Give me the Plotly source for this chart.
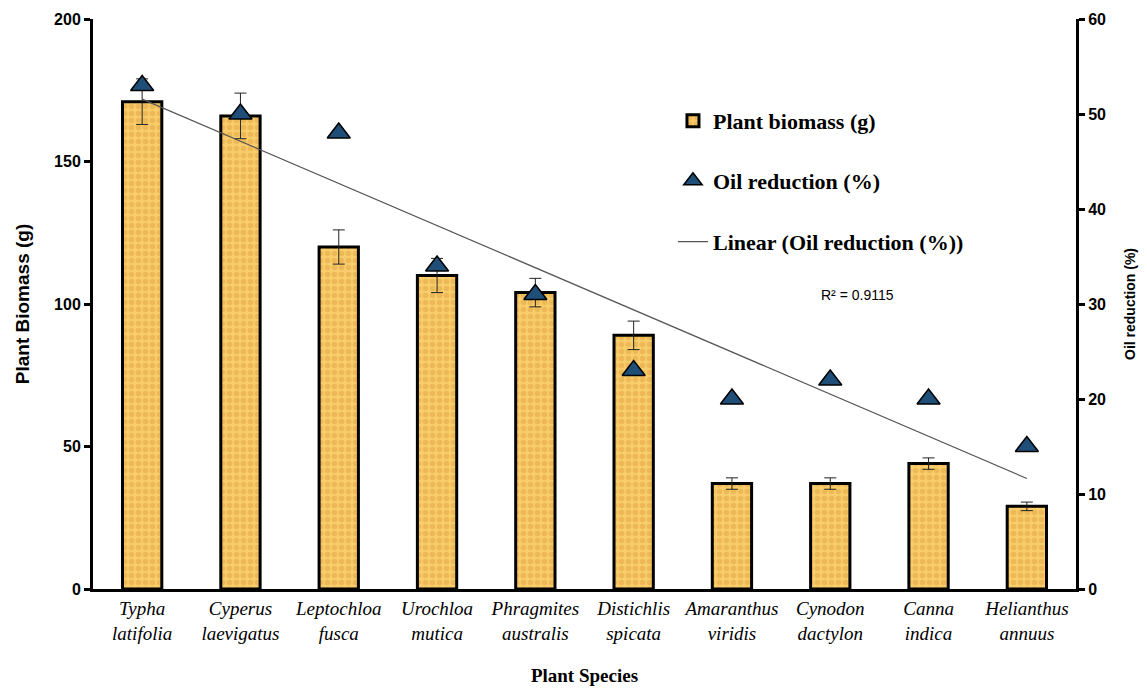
import numpy as np
import plotly.graph_objects as go

species = ["Typha<br>latifolia", "Cyperus<br>laevigatus", "Leptochloa<br>fusca", "Urochloa<br>mutica",
           "Phragmites<br>australis", "Distichlis<br>spicata", "Amaranthus<br>viridis", "Cynodon<br>dactylon",
           "Canna<br>indica", "Helianthus<br>annuus"]
biomass = [171, 166, 120, 110, 104, 89, 37, 37, 44, 29]
biomass_err = [8, 8, 6, 6, 5, 5, 2, 2, 2, 1.5]
oil_reduction = [53, 50, 48, 34, 31, 23, 20, 22, 20, 15]
r2_label = "R² = 0.9115"

cats = [f"<i>{s}</i>" for s in species]

# linear trendline of oil reduction vs. category index
idx = np.arange(1, len(oil_reduction) + 1)
slope, intercept = np.polyfit(idx, oil_reduction, 1)
trend = slope * idx + intercept

serif = "Liberation Serif, Times New Roman, serif"
sans = "Liberation Sans, Arial, sans-serif"

fig = go.Figure()
fig.add_trace(go.Bar(
    x=cats, y=biomass, name="<b>Plant biomass (g)</b>", width=0.4,
    marker=dict(color="#F8C763", line=dict(color="black", width=3),
                pattern=dict(shape=".", bgcolor="#F9CC6C", fgcolor="#E2A540", size=7, solidity=0.5)),
    error_y=dict(type="data", array=biomass_err, color="#222222", thickness=1, width=6),
    legend="legend",
))
fig.add_trace(go.Scatter(
    x=cats, y=trend, mode="lines", name="<b>Linear (Oil reduction (%))</b>",
    line=dict(color="#555555", width=1.2), yaxis="y2", legend="legend3",
))
fig.add_trace(go.Scatter(
    x=cats, y=oil_reduction, mode="markers", name="<b>Oil reduction (%)</b>",
    marker=dict(symbol="triangle-up", size=20, color="#1F4E79", line=dict(color="black", width=1.5)),
    yaxis="y2", legend="legend2",
))

legfont = dict(family=serif, size=22, color="black")
fig.update_layout(
    width=1139, height=681,
    margin=dict(l=85, r=71, t=11, b=100),
    plot_bgcolor="white", paper_bgcolor="white",
    showlegend=True,
    xaxis=dict(showline=True, linecolor="black", linewidth=3, ticks="", showgrid=False, automargin=False,
               tickfont=dict(family=serif, size=19, color="black"),
               title=dict(text="<b>Plant Species</b>", font=dict(family=serif, size=19, color="black"), standoff=27),
               range=[-0.5, 9.5]),
    yaxis=dict(range=[0, 200], dtick=50, showline=True, linecolor="black", linewidth=3, automargin=False,
               ticks="outside", ticklen=6, tickwidth=3, tickcolor="black", showgrid=False, zeroline=False,
               tickfont=dict(family=sans, size=16, color="black"), tickprefix="<b>", ticksuffix="</b>",
               title=dict(text="<b>Plant Biomass (g)</b>", font=dict(family=sans, size=19, color="black"), standoff=20)),
    yaxis2=dict(range=[0, 60], dtick=10, overlaying="y", side="right", showline=True, linecolor="black",
                linewidth=3, ticks="outside", ticklen=6, tickwidth=3, tickcolor="black", showgrid=False,
                zeroline=False, automargin=False, tickfont=dict(family=sans, size=16, color="black"),
                tickprefix="<b>", ticksuffix="</b>",
                title=dict(text="<b>Oil reduction (%)</b>", font=dict(family=sans, size=14, color="black"), standoff=21)),
    legend=dict(x=0.590, y=0.821, xanchor="left", yanchor="middle", font=legfont, bgcolor="rgba(0,0,0,0)"),
    legend2=dict(x=0.590, y=0.716, xanchor="left", yanchor="middle", font=legfont, bgcolor="rgba(0,0,0,0)"),
    legend3=dict(x=0.590, y=0.609, xanchor="left", yanchor="middle", font=legfont, bgcolor="rgba(0,0,0,0)"),
    annotations=[dict(x=0.817, y=0.516, xref="paper", yref="paper", showarrow=False,
                      text=r2_label, font=dict(family=sans, size=14, color="black"))],
)

fig.write_html("out.html")
